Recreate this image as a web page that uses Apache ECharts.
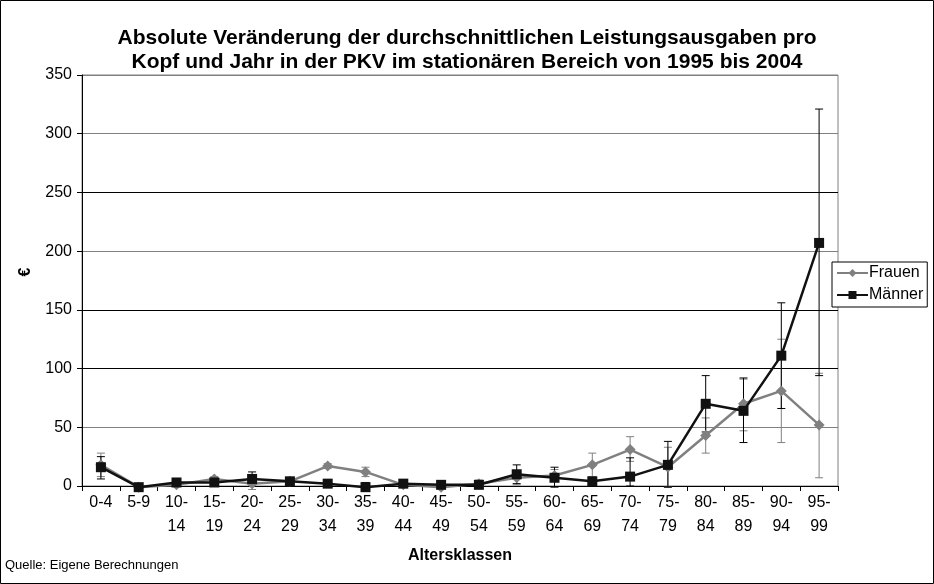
<!DOCTYPE html>
<html>
<head>
<meta charset="utf-8">
<script src="https://cdn.jsdelivr.net/npm/echarts@6/dist/echarts.min.js"></script>
<style>
  html, body { margin: 0; padding: 0; background: #fff; }
  #chart { width: 934px; height: 584px; }
</style>
</head>
<body>
<div id="chart"></div>
<script>
// Altersklassen
const categories = ['0-4', '5-9', '10-14', '15-19', '20-24', '25-29', '30-34', '35-39', '40-44', '45-49',
  '50-54', '55-59', '60-64', '65-69', '70-74', '75-79', '80-84', '85-89', '90-94', '95-99'];

// Frauen: Mittelwert und Fehlerbalken (unten / oben)
const frauen     = [18, -1, 1, 6, 2, 4, 17, 12, 1, -1, 2, 7, 9, 18, 31, 16, 43, 70, 81, 52];
const frauenLow  = [8, -1, 0, 4, -3, 2, 15, 8, 0, -1, 0, 1, 4, 8, 21, -1, 28, 47, 37, 7];
const frauenHigh = [28, 0, 2, 8, 7, 6, 19, 16, 2, 0, 5, 13, 14, 28, 42, 33, 58, 91, 125, 96];

// Männer
const maenner     = [16, -1, 3, 3, 6, 4, 2, -1, 2, 1, 1, 10, 7, 4, 8, 18, 70, 64, 111, 207];
const maennerLow  = [6, -1, 2, 2, 1, 3, 1, -3, 1, 0, 0, 2, -1, 2, 0, -1, 46, 37, 66, 94];
const maennerHigh = [25, 0, 4, 4, 12, 5, 3, 3, 3, 2, 2, 18, 16, 6, 24, 38, 94, 92, 156, 321];

const yTicks = [0, 50, 100, 150, 200, 250, 300, 350];

const FONT = '"Liberation Sans", Arial, sans-serif';

function errBars(low, high) {
  return low.map((v, i) => [i, v, high[i]]);
}

// Fehlerbalken: senkrechte Linie mit Querstrichen
function renderErr(params, api) {
  const lo = api.coord([api.value(0), api.value(1)]);
  const hi = api.coord([api.value(0), api.value(2)]);
  const c = api.visual('color');
  const w = 4;
  const st = { stroke: c, lineWidth: 1 };
  return {
    type: 'group',
    children: [
      { type: 'line', shape: { x1: lo[0], y1: lo[1], x2: hi[0], y2: hi[1] }, style: st },
      { type: 'line', shape: { x1: lo[0] - w, y1: lo[1], x2: lo[0] + w, y2: lo[1] }, style: st },
      { type: 'line', shape: { x1: hi[0] - w, y1: hi[1], x2: hi[0] + w, y2: hi[1] }, style: st }
    ]
  };
}

const chart = echarts.init(document.getElementById('chart'));

chart.setOption({
  animation: false,
  textStyle: { fontFamily: FONT },
  title: {
    text: 'Absolute Veränderung der durchschnittlichen Leistungsausgaben pro\nKopf und Jahr in der PKV im stationären Bereich von 1995 bis 2004',
    left: 'center',
    top: 26,
    padding: 0,
    textStyle: { fontFamily: FONT, fontSize: 21, fontWeight: 'bold', color: '#000', lineHeight: 24 }
  },
  legend: {
    data: ['Frauen', 'Männer'],
    orient: 'vertical',
    left: 832,
    top: 262,
    padding: [2, 4, 3, 4],
    itemGap: 4,
    itemWidth: 31,
    itemHeight: 10,
    backgroundColor: '#fff',
    borderColor: '#000',
    borderWidth: 1,
    borderRadius: 0,
    textStyle: { fontFamily: FONT, fontSize: 16, color: '#000', lineHeight: 18, padding: [0, 0, 0, -4] }
  },
  grid: {
    left: 82, right: 96, top: 75, bottom: 98,
    show: true, borderColor: '#808080', borderWidth: 1
  },
  xAxis: {
    type: 'category',
    data: categories,
    boundaryGap: true,
    name: 'Altersklassen',
    nameLocation: 'middle',
    nameGap: 62,
    nameTextStyle: { fontFamily: FONT, fontSize: 16, fontWeight: 'bold', color: '#000' },
    axisLine: { lineStyle: { color: '#000', width: 1 } },
    axisTick: { show: true, interval: 0, length: 5, lineStyle: { color: '#000' } },
    axisLabel: {
      interval: 0, margin: 5, fontSize: 16, color: '#000', lineHeight: 24,
      formatter: v => v.length > 3 ? v.replace('-', '-\n') : v
    }
  },
  yAxis: {
    type: 'value',
    min: yTicks[0],
    max: yTicks[yTicks.length - 1],
    interval: 50,
    name: '€',
    nameLocation: 'middle',
    nameRotate: 90,
    nameGap: 48,
    nameTextStyle: { fontFamily: FONT, fontSize: 16, fontWeight: 'bold', color: '#000', padding: [0, 0, 0, 17] },
    axisLine: { show: true, lineStyle: { color: '#000', width: 1 } },
    axisTick: { show: true, length: 5, lineStyle: { color: '#000' } },
    axisLabel: { fontSize: 16, color: '#000', margin: 10 },
    splitLine: {
      show: true,
      lineStyle: { color: ['#000', '#808080', '#000', '#000', '#808080', '#000', '#808080', '#808080'], width: 1 }
    }
  },
  graphic: [
    {
      type: 'rect',
      shape: { x: 0.5, y: 0.5, width: 933, height: 583 },
      style: { fill: 'none', stroke: '#000', lineWidth: 1 },
      silent: true
    },
    {
      type: 'text',
      left: 5,
      top: 559,
      style: { text: 'Quelle: Eigene Berechnungen', fontFamily: FONT, fontSize: 13, fill: '#000' }
    }
  ],
  series: [
    {
      name: 'Frauen Fehler',
      type: 'custom',
      renderItem: renderErr,
      itemStyle: { color: '#808080' },
      data: errBars(frauenLow, frauenHigh),
      encode: { x: 0, y: [1, 2] },
      clip: false,
      z: 1
    },
    {
      name: 'Männer Fehler',
      type: 'custom',
      renderItem: renderErr,
      itemStyle: { color: '#000' },
      data: errBars(maennerLow, maennerHigh),
      encode: { x: 0, y: [1, 2] },
      clip: false,
      z: 1
    },
    {
      name: 'Frauen',
      type: 'line',
      data: frauen,
      symbol: 'diamond',
      symbolSize: 11,
      color: '#808080',
      lineStyle: { width: 2.5, color: '#808080' },
      itemStyle: { color: '#808080' },
      clip: false,
      z: 3
    },
    {
      name: 'Männer',
      type: 'line',
      data: maenner,
      symbol: 'rect',
      symbolSize: 10,
      color: '#111',
      lineStyle: { width: 2.5, color: '#111' },
      itemStyle: { color: '#111' },
      clip: false,
      z: 4
    }
  ]
});
</script>
</body>
</html>
